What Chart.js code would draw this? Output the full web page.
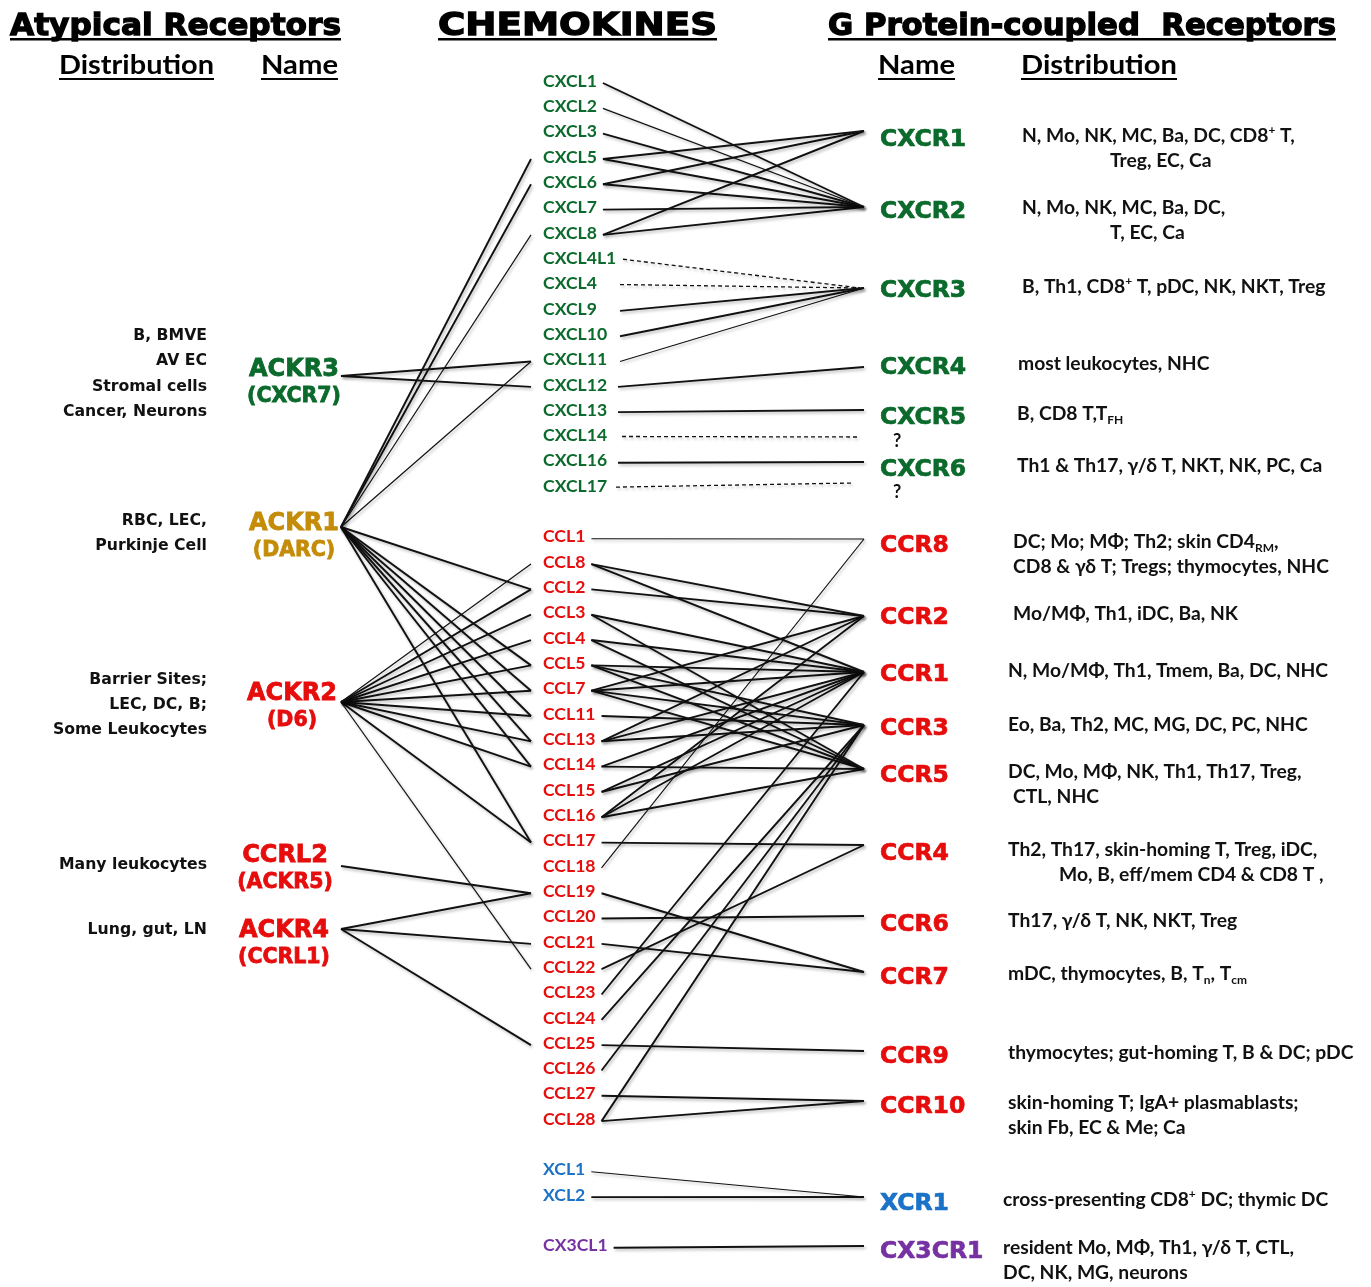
<!DOCTYPE html>
<html>
<head>
<meta charset="utf-8">
<script src="https://cdn.jsdelivr.net/npm/chart.js@4.4.1/dist/chart.umd.min.js"></script>
<style>
  html, body { margin: 0; padding: 0; background: #fff; }
</style>
</head>
<body>
<canvas id="chart" width="1371" height="1287"></canvas>
<script>
// ---- data ----
const cxcChemokines = ['CXCL1', 'CXCL2', 'CXCL3', 'CXCL5', 'CXCL6', 'CXCL7', 'CXCL8', 'CXCL4L1', 'CXCL4',
  'CXCL9', 'CXCL10', 'CXCL11', 'CXCL12', 'CXCL13', 'CXCL14', 'CXCL16', 'CXCL17'];
const ccChemokines = ['CCL1', 'CCL8', 'CCL2', 'CCL3', 'CCL4', 'CCL5', 'CCL7', 'CCL11', 'CCL13', 'CCL14', 'CCL15',
  'CCL16', 'CCL17', 'CCL18', 'CCL19', 'CCL20', 'CCL21', 'CCL22', 'CCL23', 'CCL24', 'CCL25', 'CCL26', 'CCL27', 'CCL28'];
const xcChemokines = ['XCL1', 'XCL2'];
const cx3cChemokines = ['CX3CL1'];

const gpcrNames = ['CXCR1', 'CXCR2', 'CXCR3', 'CXCR4', 'CXCR5', 'CXCR6', 'CCR8', 'CCR2', 'CCR1', 'CCR3', 'CCR5',
  'CCR4', 'CCR6', 'CCR7', 'CCR9', 'CCR10', 'XCR1', 'CX3CR1'];
const gpcrDistribution = [
  ['N, Mo, NK, MC, Ba, DC, CD8^{+} T,', 'Treg, EC, Ca'],
  ['N, Mo, NK, MC, Ba, DC,', 'T, EC, Ca'],
  ['B, Th1, CD8^{+} T, pDC, NK, NKT, Treg'],
  ['most leukocytes, NHC'],
  ['B, CD8 T,T_{FH}'],
  ['Th1 & Th17, γ/δ T, NKT, NK, PC, Ca'],
  ['DC; Mo; MΦ; Th2; skin CD4_{RM},', 'CD8 & γδ T; Tregs; thymocytes, NHC'],
  ['Mo/MΦ, Th1, iDC, Ba, NK'],
  ['N, Mo/MΦ, Th1, Tmem, Ba, DC, NHC'],
  ['Eo, Ba, Th2, MC, MG, DC, PC, NHC'],
  ['DC, Mo, MΦ, NK, Th1, Th17, Treg,', 'CTL, NHC'],
  ['Th2, Th17, skin-homing T, Treg, iDC,', 'Mo, B, eff/mem CD4 & CD8 T ,'],
  ['Th17, γ/δ T, NK, NKT, Treg'],
  ['mDC, thymocytes, B, T_{n}, T_{cm}'],
  ['thymocytes; gut-homing T, B & DC; pDC'],
  ['skin-homing T; IgA+ plasmablasts;', 'skin Fb, EC & Me; Ca'],
  ['cross-presenting CD8^{+} DC; thymic DC'],
  ['resident Mo, MΦ, Th1, γ/δ T, CTL,', 'DC, NK, MG, neurons']
];

const atypicalNames = ['ACKR3', 'ACKR1', 'ACKR2', 'CCRL2', 'ACKR4'];
const atypicalAliases = ['(CXCR7)', '(DARC)', '(D6)', '(ACKR5)', '(CCRL1)'];
const atypicalDistribution = [
  ['B, BMVE', 'AV EC', 'Stromal cells', 'Cancer, Neurons'],
  ['RBC, LEC,', 'Purkinje Cell'],
  ['Barrier Sites;', 'LEC, DC, B;', 'Some Leukocytes'],
  ['Many leukocytes'],
  ['Lung, gut, LN']
];

// chemokine -> receptor
const gpcrBindings = [
  ['CXCL1', 'CXCR2'], ['CXCL2', 'CXCR2'], ['CXCL3', 'CXCR2'],
  ['CXCL5', 'CXCR1'], ['CXCL5', 'CXCR2'], ['CXCL6', 'CXCR1'], ['CXCL6', 'CXCR2'],
  ['CXCL7', 'CXCR2'], ['CXCL8', 'CXCR1'], ['CXCL8', 'CXCR2'],
  ['CXCL9', 'CXCR3'], ['CXCL10', 'CXCR3'], ['CXCL11', 'CXCR3'],
  ['CXCL12', 'CXCR4'], ['CXCL13', 'CXCR5'], ['CXCL16', 'CXCR6'],
  ['CCL1', 'CCR8'], ['CCL8', 'CCR2'], ['CCL8', 'CCR1'], ['CCL2', 'CCR2'],
  ['CCL3', 'CCR1'], ['CCL3', 'CCR5'], ['CCL4', 'CCR1'], ['CCL4', 'CCR5'],
  ['CCL5', 'CCR1'], ['CCL5', 'CCR3'], ['CCL5', 'CCR5'],
  ['CCL7', 'CCR1'], ['CCL7', 'CCR2'], ['CCL7', 'CCR3'], ['CCL7', 'CCR5'],
  ['CCL11', 'CCR3'], ['CCL13', 'CCR1'], ['CCL13', 'CCR2'], ['CCL13', 'CCR3'],
  ['CCL14', 'CCR1'], ['CCL14', 'CCR5'], ['CCL15', 'CCR1'], ['CCL15', 'CCR3'],
  ['CCL16', 'CCR1'], ['CCL16', 'CCR2'], ['CCL16', 'CCR5'],
  ['CCL17', 'CCR4'], ['CCL18', 'CCR8'], ['CCL19', 'CCR7'], ['CCL20', 'CCR6'], ['CCL21', 'CCR7'],
  ['CCL22', 'CCR4'], ['CCL23', 'CCR1'], ['CCL24', 'CCR3'], ['CCL25', 'CCR9'], ['CCL26', 'CCR3'],
  ['CCL27', 'CCR10'], ['CCL28', 'CCR10'], ['CCL28', 'CCR3'],
  ['XCL1', 'XCR1'], ['XCL2', 'XCR1'], ['CX3CL1', 'CX3CR1']
];
// uncertain bindings (dashed); null = receptor unknown
const uncertainBindings = [['CXCL4L1', 'CXCR3'], ['CXCL4', 'CXCR3'], ['CXCL14', null], ['CXCL17', null]];

// atypical receptor -> chemokine
const atypicalBindings = [
  ['ACKR3', 'CXCL11'], ['ACKR3', 'CXCL12'],
  ['ACKR1', 'CXCL5'], ['ACKR1', 'CXCL6'], ['ACKR1', 'CXCL8'], ['ACKR1', 'CXCL11'],
  ['ACKR1', 'CCL2'], ['ACKR1', 'CCL5'], ['ACKR1', 'CCL7'], ['ACKR1', 'CCL11'], ['ACKR1', 'CCL13'],
  ['ACKR1', 'CCL14'], ['ACKR1', 'CCL17'],
  ['ACKR2', 'CCL8'], ['ACKR2', 'CCL2'], ['ACKR2', 'CCL3'], ['ACKR2', 'CCL4'], ['ACKR2', 'CCL5'],
  ['ACKR2', 'CCL7'], ['ACKR2', 'CCL11'], ['ACKR2', 'CCL13'], ['ACKR2', 'CCL14'], ['ACKR2', 'CCL17'],
  ['ACKR2', 'CCL22'],
  ['CCRL2', 'CCL19'],
  ['ACKR4', 'CCL19'], ['ACKR4', 'CCL21'], ['ACKR4', 'CCL25']
];

// ---- layout & style ----
const GREEN = '#0b6a2c', RED = '#e60d0d', GOLD = '#c48c08', BLUE = '#1b72c6', PURPLE = '#7632a2';
const ROW0 = 79, ROW_STEP = 25.32;
const CHEM_X = 543, CHEM_LEFT = 531, GPCR_END_X = 864, GPCR_LABEL_X = 880, ACKR_X = 341;
const CHEM_FONT = 'bold 17.6px Lato';

const chemRow = {}, chemColor = {};
let row = 0;
[[cxcChemokines, GREEN], [ccChemokines, RED], [xcChemokines, BLUE], [cx3cChemokines, PURPLE]].forEach(([g, c], gi) => {
  if (gi > 0) row += 1;
  g.forEach(n => { chemRow[n] = row++; chemColor[n] = c; });
});
const chemY = n => ROW0 + ROW_STEP * chemRow[n];

// receptor label centre y, line end y
const gpcrLayout = {
  CXCR1: [137, 131], CXCR2: [209, 207], CXCR3: [288, 288], CXCR4: [365, 367], CXCR5: [415, 410],
  CXCR6: [467, 462], CCR8: [543, 539], CCR2: [615, 616], CCR1: [672, 672], CCR3: [726, 725],
  CCR5: [773, 769], CCR4: [851, 845], CCR6: [922, 916], CCR7: [975, 972], CCR9: [1054, 1051],
  CCR10: [1104, 1101], XCR1: [1201, 1197], CX3CR1: [1249, 1246]
};
const gpcrColor = n => n.startsWith('CXC') && !n.startsWith('CX3') ? GREEN : n.startsWith('CCR') ? RED : n.startsWith('XCR') ? BLUE : PURPLE;
const gpcrDistX = {
  CXCR1: [1022, 1110], CXCR2: [1022, 1110], CXCR3: [1022], CXCR4: [1018], CXCR5: [1017], CXCR6: [1017],
  CCR8: [1013, 1013], CCR2: [1013], CCR1: [1008], CCR3: [1008], CCR5: [1008, 1013], CCR4: [1008, 1059],
  CCR6: [1008], CCR7: [1008], CCR9: [1008], CCR10: [1008, 1008], XCR1: [1003], CX3CR1: [1003, 1003]
};
const unknownEnd = { CXCL14: [860, 437], CXCL17: [853, 483] };
// lines from CXCL4 down to CXCL17 start from a common x
const commonStart = { CXCL4L1: 623, CXCL4: 620, CXCL9: 620, CXCL10: 620, CXCL11: 620, CXCL12: 618, CXCL13: 618,
  CXCL14: 622, CXCL16: 618, CXCL17: 616 };

// atypical: line origin y, name y, alias y, label centre x
const ackrLayout = {
  ACKR3: [376, 367, 394, 294, GREEN], ACKR1: [527, 521, 548, 294, GOLD], ACKR2: [702, 691, 718, 292, RED],
  CCRL2: [866, 853, 880, 285, RED], ACKR4: [929, 928, 955, 284, RED]
};
const ackrDistY = [[334, 359, 385, 410], [519, 544], [678, 703, 728], [863], [928]];

const thin = new Set(['ACKR1-CXCL11', 'ACKR2-CCL8', 'ACKR2-CCL22', 'CCL18-CCR8', 'CXCL2-CXCR2',
  'ACKR1-CXCL8', 'CXCL11-CXCR3', 'CCL1-CCR8', 'XCL1-XCR1']);

// measure label widths so lines start just after the text
const mctx = document.createElement('canvas').getContext('2d');
mctx.font = CHEM_FONT;
const chemRightX = n => commonStart[n] || CHEM_X + mctx.measureText(n).width + 6;

const datasets = [];
const seg = (x1, y1, x2, y2, w, dash) => datasets.push({
  data: [{ x: x1, y: y1 }, { x: x2, y: y2 }], showLine: true, borderColor: '#111',
  borderWidth: w, borderDash: dash || [], pointRadius: 0, pointHoverRadius: 0
});

gpcrBindings.forEach(([c, r]) => {
  seg(chemRightX(c), chemY(c) + 4, GPCR_END_X, gpcrLayout[r][1], thin.has(c + '-' + r) ? 1.2 : 1.9);
});
uncertainBindings.forEach(([c, r]) => {
  const end = r ? [GPCR_END_X - 4, gpcrLayout[r][1]] : unknownEnd[c];
  seg(chemRightX(c), chemY(c) + 3, end[0], end[1], 1.3, [4, 3]);
});
atypicalBindings.forEach(([a, c]) => {
  seg(ACKR_X, ackrLayout[a][0], CHEM_LEFT, chemY(c) + 4, thin.has(a + '-' + c) ? 1.2 : 1.9);
});

// ---- text helpers ----
function parseRich(s) {
  const out = [], re = /(\^\{[^}]*\}|_\{[^}]*\})/g;
  let last = 0, m;
  while ((m = re.exec(s))) {
    if (m.index > last) out.push({ t: s.slice(last, m.index), k: 0 });
    out.push({ t: m[0].slice(2, -1), k: m[0][0] === '^' ? 1 : -1 });
    last = re.lastIndex;
  }
  if (last < s.length) out.push({ t: s.slice(last), k: 0 });
  return out;
}
function drawRich(ctx, s, x, y, size, family) {
  let cx = x;
  for (const p of parseRich(s)) {
    const sz = p.k ? size * 0.62 : size;
    ctx.font = `bold ${sz}px ${family}`;
    const dy = p.k === 1 ? -size * 0.3 : p.k === -1 ? size * 0.3 : 0;
    ctx.fillText(p.t, cx, y + dy);
    cx += ctx.measureText(p.t).width;
  }
}
function fitText(ctx, s, left, base, width, font, color, underline, stroke) {
  ctx.font = font;
  const w = ctx.measureText(s).width;
  ctx.save();
  ctx.translate(left, base);
  ctx.scale(width / w, 1);
  ctx.fillStyle = color;
  ctx.textAlign = 'left';
  ctx.textBaseline = 'alphabetic';
  ctx.fillText(s, 0, 0);
  if (stroke) { ctx.strokeStyle = color; ctx.lineWidth = stroke; ctx.strokeText(s, 0, 0); }
  ctx.restore();
  if (underline) {
    ctx.fillStyle = color;
    ctx.fillRect(left, base + underline[0], width, underline[1]);
  }
}

const shadowPlugin = {
  id: 'shadow',
  beforeDatasetsDraw(chart) {
    const ctx = chart.ctx;
    ctx.save();
    ctx.shadowColor = 'rgba(0,0,0,0.28)';
    ctx.shadowBlur = 3;
    ctx.shadowOffsetX = 1.5;
    ctx.shadowOffsetY = 2;
  },
  afterDatasetsDraw(chart) { chart.ctx.restore(); }
};

const labelPlugin = {
  id: 'labels',
  afterDraw(chart) {
    const { ctx, scales: { x, y } } = chart;
    const X = v => x.getPixelForValue(v), Y = v => y.getPixelForValue(v);

    // headers
    fitText(ctx, 'Atypical Receptors', X(10), Y(35), 331, 'bold 30px "DejaVu Sans"', '#000', [3, 2.5], 1.3);
    fitText(ctx, 'CHEMOKINES', X(438), Y(35), 279, 'bold 32px "DejaVu Sans"', '#000', [3, 2.5], 1.3);
    fitText(ctx, 'G Protein-coupled  Receptors', X(828), Y(35), 508, 'bold 30px "DejaVu Sans"', '#000', [3, 2.5], 1.3);
    fitText(ctx, 'Distribution', X(59), Y(74), 155, 'bold 27px Lato', '#000', [4, 2]);
    fitText(ctx, 'Name', X(261), Y(74), 77, 'bold 27px Lato', '#000', [4, 2]);
    fitText(ctx, 'Name', X(878), Y(74), 77, 'bold 27px Lato', '#000', [4, 2]);
    fitText(ctx, 'Distribution', X(1021), Y(74), 156, 'bold 27px Lato', '#000', [4, 2]);

    // chemokines
    ctx.textBaseline = 'middle';
    ctx.textAlign = 'left';
    ctx.font = CHEM_FONT;
    Object.keys(chemRow).forEach(n => {
      ctx.fillStyle = chemColor[n];
      ctx.fillText(n, X(CHEM_X), Y(chemY(n) + 2));
    });

    // GPCRs
    gpcrNames.forEach((n, i) => {
      const [ly] = gpcrLayout[n];
      ctx.font = 'bold 23.5px "DejaVu Sans"';
      ctx.fillStyle = gpcrColor(n);
      ctx.strokeStyle = gpcrColor(n);
      ctx.lineWidth = 0.7;
      ctx.textAlign = 'left';
      ctx.fillText(n, X(GPCR_LABEL_X), Y(ly + 3));
      ctx.strokeText(n, X(GPCR_LABEL_X), Y(ly + 3));
      ctx.fillStyle = '#111';
      gpcrDistribution[i].forEach((t, j) => {
        drawRich(ctx, t, X(gpcrDistX[n][j]), Y(ly - 1 + j * 25), 19.3, 'Lato');
      });
    });
    ctx.font = 'bold 18px Lato';
    ctx.fillStyle = '#111';
    ctx.fillText('?', X(893), Y(441));
    ctx.fillText('?', X(893), Y(492));

    // atypical receptors
    atypicalNames.forEach((n, i) => {
      const [, ny, ay, cx, col] = ackrLayout[n];
      ctx.textAlign = 'center';
      ctx.fillStyle = col;
      ctx.strokeStyle = col;
      ctx.lineWidth = 0.8;
      ctx.font = 'bold 24px "DejaVu Sans"';
      ctx.fillText(n, X(cx), Y(ny + 3));
      ctx.strokeText(n, X(cx), Y(ny + 3));
      ctx.font = 'bold 20.5px "DejaVu Sans"';
      ctx.fillText(atypicalAliases[i], X(cx), Y(ay + 3));
      ctx.strokeText(atypicalAliases[i], X(cx), Y(ay + 3));
      ctx.textAlign = 'right';
      ctx.fillStyle = '#111';
      ctx.font = 'bold 15.7px "DejaVu Sans"';
      atypicalDistribution[i].forEach((t, j) => ctx.fillText(t, X(207), Y(ackrDistY[i][j] + 2)));
    });
  }
};

new Chart(document.getElementById('chart'), {
  type: 'scatter',
  data: { datasets },
  options: {
    responsive: false,
    animation: false,
    devicePixelRatio: 1,
    layout: { padding: 0 },
    plugins: { legend: { display: false }, tooltip: { enabled: false } },
    scales: {
      x: { type: 'linear', min: 0, max: 1371, display: false },
      y: { type: 'linear', min: 0, max: 1287, reverse: true, display: false }
    }
  },
  plugins: [shadowPlugin, labelPlugin]
});
</script>
</body>
</html>
